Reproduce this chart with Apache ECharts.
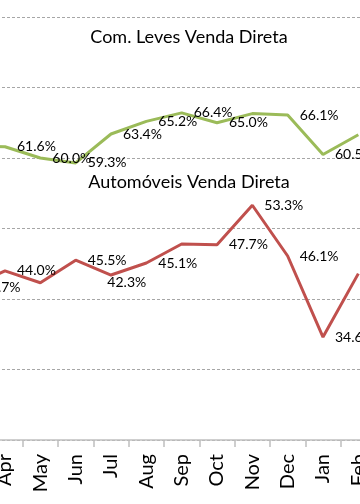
<!DOCTYPE html>
<html>
<head>
<meta charset="utf-8">
<script src="https://cdn.jsdelivr.net/npm/echarts@6/dist/echarts.min.js"></script>
<style>
html,body{margin:0;padding:0;background:#fff;overflow:hidden;width:360px;height:504px;}
#wrap{position:relative;width:360px;height:504px;overflow:hidden;}
#c{position:absolute;left:-48px;top:0;width:424px;height:504px;}
</style>
</head>
<body>
<div id="wrap"><div id="c"></div></div>
<script>
// Categories (Mar is just off the left edge in the reference crop)
const months = ['Mar','Apr','May','Jun','Jul','Aug','Sep','Oct','Nov','Dec','Jan','Feb'];
// Com. Leves Venda Direta (%)
const comLeves = [61.7, 61.6, 60.0, 59.3, 63.4, 65.2, 66.4, 65.0, 66.3, 66.1, 60.5, 63.3];
const comLevesLabeled = [false, true, true, true, true, true, true, true, false, true, true, false];
// Automóveis Venda Direta (%)
const automoveis = [41.7, 44.0, 42.3, 45.5, 43.4, 45.1, 47.8, 47.7, 53.3, 46.1, 34.6, 43.6];
const automoveisLabeled = [true, true, true, true, false, true, false, true, true, true, true, false];
const titles = ['Com. Leves Venda Direta', 'Automóveis Venda Direta'];
const yTicks = {min: 20, max: 80, interval: 10};

const FONT = 'Lato, "Open Sans", sans-serif';

function buildData(vals, flags) {
  return vals.map((v, i) => ({value: v, label: {show: flags[i]}}));
}

const chart = echarts.init(document.getElementById('c'), null, {renderer: 'canvas'});
chart.setOption({
  animation: false,
  backgroundColor: '#ffffff',
  title: [
    {text: titles[0], left: 232, top: 23, textAlign: 'center',
     textStyle: {fontFamily: FONT, fontSize: 18, fontWeight: 'normal', color: '#000'}},
    {text: titles[1], left: 232, top: 168, textAlign: 'center',
     textStyle: {fontFamily: FONT, fontSize: 18, fontWeight: 'normal', color: '#000'}}
  ],
  grid: {left: 0, right: 0, top: 17, bottom: 64, containLabel: false},
  xAxis: {
    type: 'category',
    data: months,
    boundaryGap: true,
    axisLine: {lineStyle: {color: '#bfbfbf', width: 1.5}},
    axisTick: {show: true, length: 7, lineStyle: {color: '#bfbfbf', width: 1.5}},
    axisLabel: {rotate: 90, fontFamily: FONT, fontSize: 20, color: '#000', margin: 14, interval: 0}
  },
  yAxis: {
    type: 'value',
    min: yTicks.min, max: yTicks.max, interval: yTicks.interval,
    axisLabel: {show: false},
    axisLine: {show: false},
    axisTick: {show: false},
    splitLine: {lineStyle: {color: '#a6a6a6', type: [3, 2], width: 1}}
  },
  series: [
    {
      name: titles[0], type: 'line', data: buildData(comLeves, comLevesLabeled),
      symbol: 'circle', symbolSize: 0.01, showSymbol: true,
      lineStyle: {color: '#9bbb59', width: 3}, itemStyle: {color: '#9bbb59', borderWidth: 0},
      label: {position: 'right', distance: 12, fontFamily: FONT, fontSize: 14, color: '#000',
              formatter: p => p.value.toFixed(1) + '%'},
      labelLayout: {hideOverlap: false}
    },
    {
      name: titles[1], type: 'line',
      data: buildData(automoveis, automoveisLabeled),
      symbol: 'circle', symbolSize: 0.01, showSymbol: true,
      lineStyle: {color: '#c0504d', width: 3}, itemStyle: {color: '#c0504d', borderWidth: 0},
      label: {position: 'right', distance: 12, fontFamily: FONT, fontSize: 14, color: '#000',
              formatter: p => p.value.toFixed(1) + '%'},
      labelLayout: function (params) {
        return params.dataIndex === 2 ? {dx: 55, hideOverlap: false} : {hideOverlap: false};
      }
    }
  ]
});
</script>
</body>
</html>
